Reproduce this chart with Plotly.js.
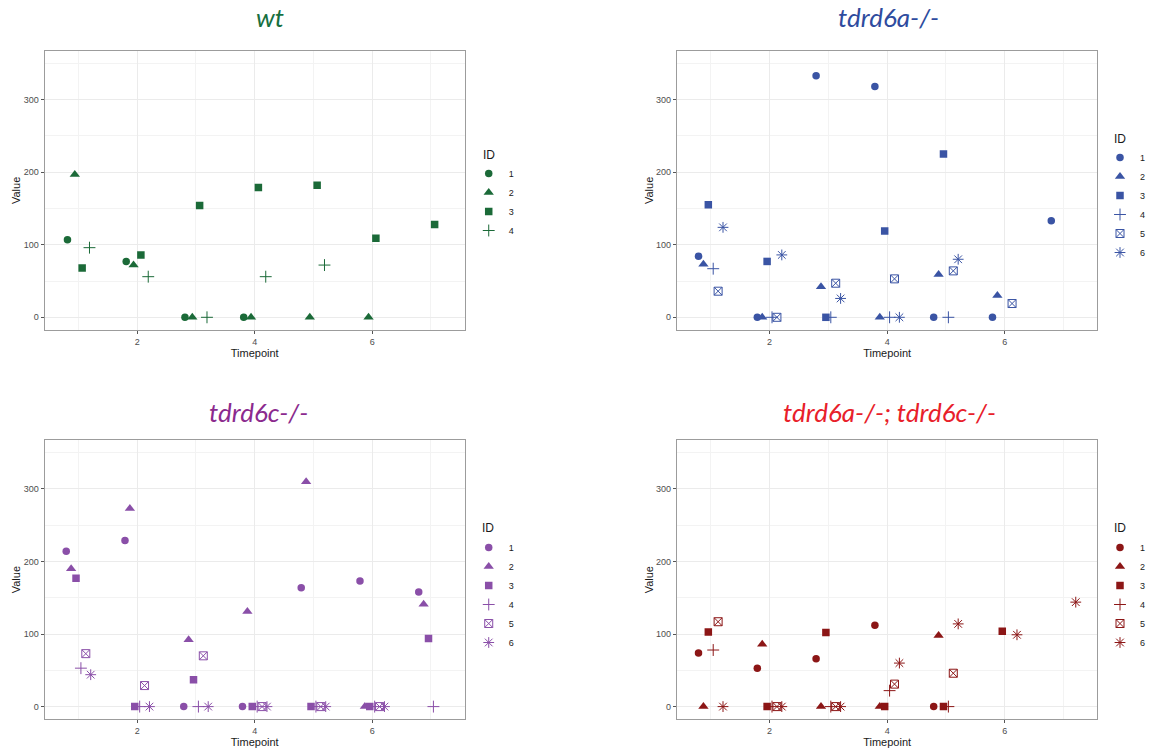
<!DOCTYPE html>
<html><head><meta charset="utf-8">
<script src="https://cdn.plot.ly/plotly-3.0.1.min.js"></script>
<style>html,body{margin:0;padding:0;background:#fff}#chart{width:1151px;height:748px}</style>
</head><body><div id="chart"></div>
<script>
// ---------- data ----------
const timepoints = [1, 2, 3, 4, 5, 6, 7];
const panelTitles = ['wt', 'tdrd6a-/-', 'tdrd6c-/-', 'tdrd6a-/-; tdrd6c-/-'];
const idsWt = ['1', '2', '3', '4'];
const idsMut = ['1', '2', '3', '4', '5', '6'];
const xTickLabels = ['2', '4', '6'];
const yTickLabels = ['0', '100', '200', '300'];

// wt
const wt_ID1 = [107, 77, 0, 0, null, null, null];
const wt_ID2 = [197, 72, 0, 0, 0, 0, null];
const wt_ID3 = [68, 86, 154, 179, 182, 109, 128];
const wt_ID4 = [96, 56, 0, 56, 72, null, null];
// tdrd6a-/-
const a_ID1 = [84, 0, 333, 318, 0, 0, 133];
const a_ID2 = [73, 0, 42, 0, 59, 30, null];
const a_ID3 = [155, 77, 0, 119, 225, null, null];
const a_ID4 = [67, 0, 0, 0, 0, null, null];
const a_ID5 = [36, 0, 47, 53, 64, 19, null];
const a_ID6 = [124, 86, 26, 0, 80, null, null];
// tdrd6c-/-
const c_ID1 = [214, 229, 0, 0, 164, 173, 158];
const c_ID2 = [190, 273, 92, 131, 310, 0, 141];
const c_ID3 = [177, 0, 37, 0, 0, 0, 94];
const c_ID4 = [53, 0, 0, 0, 0, 0, 0];
const c_ID5 = [73, 29, 70, 0, 0, 0, null];
const c_ID6 = [44, 0, 0, 0, 0, 0, null];
// tdrd6a-/-; tdrd6c-/-
const ac_ID1 = [74, 53, 66, 112, 0, null, null];
const ac_ID2 = [0, 86, 0, 0, 98, null, null];
const ac_ID3 = [103, 0, 102, 0, 0, 104, null];
const ac_ID4 = [78, 0, 0, 22, 0, null, null];
const ac_ID5 = [117, 0, 0, 31, 46, null, null];
const ac_ID6 = [0, 0, 0, 60, 114, 99, 144];

// ---------- styling ----------
const W = 1151, H = 748;
const markerColors = ['#1b6a38', '#3a54a4', '#8a4fa8', '#8c1616'];
const titleColors = ['#17703f', '#2e4b9e', '#8b2a8e', '#e8202a'];
const symbols = ['circle', 'triangle-up', 'square', 'cross-thin-open', 'square-x-open', 'asterisk-open'];
const sizes = [7.5, 9, 7.5, 8.5, 8, 9];
const dodgeWidth = 0.5;

const panels = [
  {ids: idsWt, series: [wt_ID1, wt_ID2, wt_ID3, wt_ID4],
   box: [45, 468, 50.7, 330], legendPos: [472, 159], idPos: [484, 155], titlePos: [272, 17]},
  {ids: idsMut, series: [a_ID1, a_ID2, a_ID3, a_ID4, a_ID5, a_ID6],
   box: [681.7, 1105, 50.7, 330], legendPos: [1108, 143], idPos: [1120, 139], titlePos: [895, 17]},
  {ids: idsMut, series: [c_ID1, c_ID2, c_ID3, c_ID4, c_ID5, c_ID6],
   box: [45, 468, 440, 719.3], legendPos: [472, 533], idPos: [483, 528], titlePos: [260, 412]},
  {ids: idsMut, series: [ac_ID1, ac_ID2, ac_ID3, ac_ID4, ac_ID5, ac_ID6],
   box: [681.7, 1105, 440, 719.3], legendPos: [1108, 533], idPos: [1120, 528], titlePos: [896, 412]}
];

const traces = [];
const layout = {
  width: W, height: H,
  margin: {l: 0, r: 0, t: 0, b: 0},
  paper_bgcolor: '#ffffff', plot_bgcolor: '#ffffff',
  font: {family: '"Liberation Sans", Arial, sans-serif', color: '#1a1a1a'},
  showlegend: true,
  annotations: []
};

panels.forEach((p, pi) => {
  const n = p.ids.length;
  const sfx = pi === 0 ? '' : String(pi + 1);
  const legName = 'legend' + sfx;
  p.ids.forEach((id, k) => {
    const vals = p.series[k];
    const xs = timepoints.map(t => t + ((k + 1) - (n + 1) / 2) * dodgeWidth / n);
    const open = symbols[k].indexOf('open') >= 0;
    traces.push({
      type: 'scatter', mode: 'markers',
      x: xs, y: vals, name: id,
      xaxis: 'x' + sfx, yaxis: 'y' + sfx,
      legend: legName,
      marker: {symbol: symbols[k], size: sizes[k], color: markerColors[pi],
               line: {color: markerColors[pi], width: open ? 1 : 0}},
      hoverinfo: 'x+y+name'
    });
  });
  const [x0, x1, y0, y1] = p.box;
  const axBase = {
    showline: true, mirror: true, linecolor: '#9c9c9c', linewidth: 1.3,
    showgrid: true, gridcolor: '#ebebeb', gridwidth: 1,
    zeroline: false, ticks: 'outside', ticklen: 3, tickwidth: 1, tickcolor: '#555',
    tickfont: {size: 9, color: '#4d4d4d'}, automargin: false, fixedrange: true
  };
  layout['xaxis' + sfx] = Object.assign({}, axBase, {
    domain: [x0 / W, x1 / W], anchor: 'y' + sfx, range: [0.425, 7.575],
    tickmode: 'array', tickvals: xTickLabels.map(Number), ticktext: xTickLabels,
    minor: {tickmode: 'array', tickvals: [1, 3, 5, 7], showgrid: true, gridcolor: '#f3f3f3', gridwidth: 0.7, ticks: ''},
    title: {text: 'Timepoint', font: {size: 11, color: '#1a1a1a'}, standoff: 2}
  });
  layout['yaxis' + sfx] = Object.assign({}, axBase, {
    domain: [1 - y1 / H, 1 - y0 / H], anchor: 'x' + sfx, range: [-17.5, 367.5],
    tickmode: 'array', tickvals: yTickLabels.map(Number), ticktext: yTickLabels,
    minor: {tickmode: 'array', tickvals: [50, 150, 250, 350], showgrid: true, gridcolor: '#f3f3f3', gridwidth: 0.7, ticks: ''},
    title: {text: 'Value', font: {size: 11, color: '#1a1a1a'}, standoff: 0}
  });
  layout[legName] = {
    x: p.legendPos[0] / W, y: 1 - p.legendPos[1] / H, xanchor: 'left', yanchor: 'top',
    xref: 'paper', yref: 'paper',
    bgcolor: 'rgba(0,0,0,0)', borderwidth: 0,
    font: {size: 9, color: '#1a1a1a'}, tracegroupgap: 0
  };
  layout.annotations.push({
    text: 'ID', xref: 'paper', yref: 'paper', showarrow: false,
    x: p.idPos[0] / W, y: 1 - p.idPos[1] / H, xanchor: 'left', yanchor: 'middle',
    font: {size: 12, color: '#1a1a1a'}
  });
  layout.annotations.push({
    text: '<i>' + panelTitles[pi] + '</i>', xref: 'paper', yref: 'paper', showarrow: false,
    x: p.titlePos[0] / W, y: 1 - p.titlePos[1] / H, xanchor: 'center', yanchor: 'middle',
    font: {family: 'Lato, "Open Sans", sans-serif', size: 26, color: titleColors[pi]}
  });
});

Plotly.newPlot('chart', traces, layout, {displayModeBar: false, staticPlot: false});
</script>
</body></html>
